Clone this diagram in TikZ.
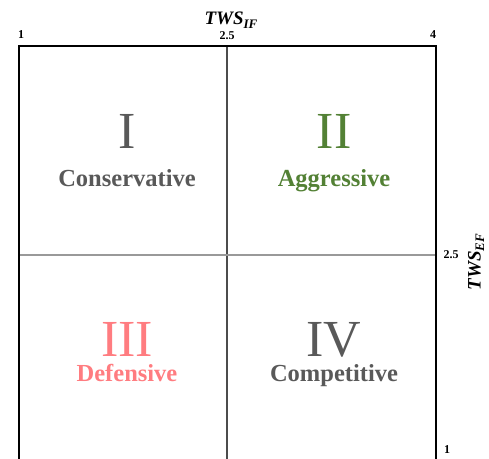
\documentclass[tikz,border=0pt]{standalone}
\usepackage{fontspec}
\setmainfont{Liberation Serif}
\definecolor{qgray}{HTML}{595959}
\definecolor{qgreen}{HTML}{538135}
\definecolor{qred}{HTML}{FF7C80}
\newcommand{\axsub}[1]{\raisebox{-3.5pt}{\fontsize{13}{13}\selectfont #1}}
\begin{document}
\begin{tikzpicture}[x=1pt,y=-1pt,
  roman/.style={font=\fontsize{52}{52}\selectfont, anchor=base, inner sep=0pt, text depth=0pt},
  qname/.style={font=\bfseries\fontsize{24.5}{24.5}\selectfont, anchor=base, inner sep=0pt},
  tick/.style={font=\bfseries\fontsize{12}{12}\selectfont, inner sep=0pt},
  axis/.style={font=\bfseries\itshape\fontsize{19}{19}\selectfont, inner sep=0pt}]
\useasboundingbox (0,0) rectangle (489,458);
\begin{scope}
\clip (0,0) rectangle (489,458);
\coordinate (tl) at (19,46);
\coordinate (tr) at (436,46);
\coordinate (bl) at (19,470);
\coordinate (br) at (436,470);
\coordinate (vt) at (227,46);
\coordinate (vb) at (227,470);
\coordinate (hl) at (19,255);
\coordinate (hr) at (436,255);
\draw[line width=1.2pt, color=black!70] (vt) -- (vb);
\draw[line width=1.2pt, color=black!40] (hl) -- (hr);
\draw[line width=2.6pt, line join=miter] (bl) -- (tl) -- (tr) -- (br);
\end{scope}
\node[tick] (t1) at (21,35) {1};
\node[tick] (t25) at (227,36) {2.5};
\node[tick] (t4) at (433,35) {4};
\node[axis] (xlab) at (231,20) {TWS\axsub{IF}};
\node[tick] (r25) at (451,255) {2.5};
\node[tick] (r1) at (447,450) {1};
\node[axis, rotate=90] (ylab) at (476,262) {TWS\axsub{EF}};
\node[roman, text=qgray] (q1) at (127,148) {I};
\node[qname, text=qgray] (n1) at (127,186) {Conservative};
\node[roman, text=qgreen] (q2) at (334,148) {II};
\node[qname, text=qgreen] (n2) at (334,186) {Aggressive};
\node[roman, text=qred] (q3) at (127,356) {III};
\node[qname, text=qred] (n3) at (127,381) {Defensive};
\node[roman, text=qgray] (q4) at (334,356) {IV};
\node[qname, text=qgray] (n4) at (334,381) {Competitive};
\end{tikzpicture}
\end{document}
